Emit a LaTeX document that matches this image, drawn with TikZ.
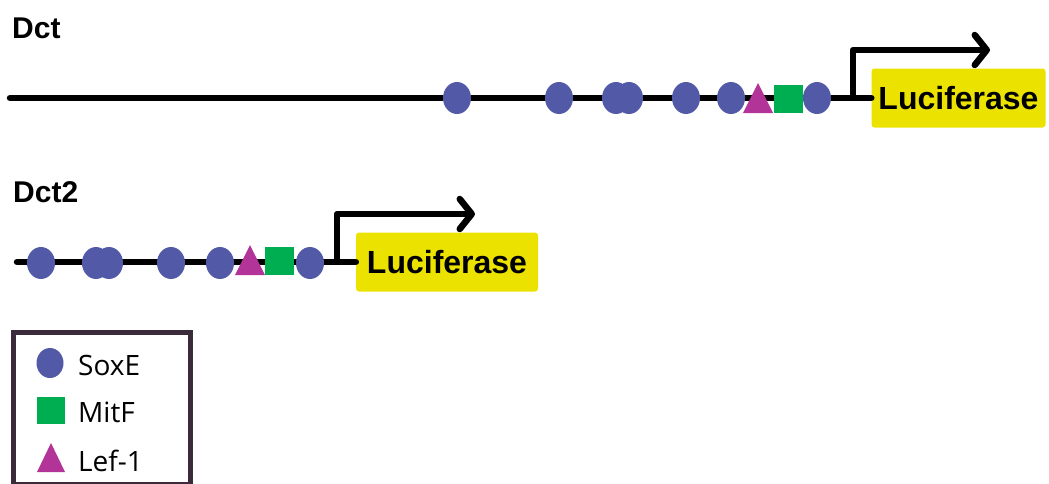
\documentclass[tikz,border=0pt]{standalone}
\usepackage{fontspec}
\setmainfont{Liberation Sans}
\newfontfamily\legendfont{Open Sans}
\usetikzlibrary{shapes.geometric,arrows.meta}

\definecolor{soxcol}{RGB}{82,90,168}
\definecolor{mitcol}{RGB}{0,174,82}
\definecolor{lefcol}{RGB}{178,52,152}
\definecolor{luccol}{RGB}{236,226,0}
\definecolor{framecol}{RGB}{58,42,58}

\tikzset{
  dna/.style={line width=6.5pt, line cap=round},
  promo/.style={line width=6.5pt, line join=round,
    -{Straight Barb[length=12pt, width=30pt, line cap=round, line join=round]}},
  sox/.style={ellipse, fill=soxcol, inner sep=0pt, minimum width=28pt, minimum height=32pt},
  soxkey/.style={ellipse, fill=soxcol, inner sep=0pt, minimum width=27pt, minimum height=30pt},
  mit/.style={rectangle, fill=mitcol, inner sep=0pt, minimum width=29pt, minimum height=28pt},
  lef/.style={fill=lefcol},
  luc/.style={rectangle, rounded corners=3pt, fill=luccol, inner sep=0pt,
    minimum height=59pt, font=\bfseries\fontsize{32}{34}\selectfont},
  title/.style={anchor=base west, inner sep=0pt, font=\bfseries\fontsize{30}{32}\selectfont},
  keytext/.style={anchor=base west, inner sep=0pt, font=\legendfont\fontsize{28}{30}\selectfont},
}

\begin{document}
\begin{tikzpicture}[x=1pt, y=-1pt]
\useasboundingbox (0,0) rectangle (1049,483);

% ---------------- Dct construct ----------------
\node[title] (dctlabel) at (12,38) {Dct};
\node[luc, minimum width=174pt] (luc1) at (958.5,98) {Luciferase};
\coordinate (d1start) at (10,98);
\draw[dna] (d1start) -- (luc1.west);
\coordinate (p1) at (853,98);
\coordinate (t1) at (990,50);
\draw[promo] (p1) |- (t1);

\node[sox] (s1) at (457,98) {};
\node[sox] (s2) at (559,98) {};
\node[sox] (s3) at (616,98) {};
\node[sox] (s4) at (629,98) {};
\node[sox] (s5) at (686,98) {};
\node[sox] (s6) at (731,98) {};
\fill[lef] (758,98) ++(-15,15) -- ++(15,-30) -- ++(15,30) -- cycle;
\node[mit] (m1) at (788.5,99) {};
\node[sox] (s7) at (817,98) {};

% ---------------- Dct2 construct ----------------
\node[title] (dct2label) at (13,202) {Dct2};
\node[luc, minimum width=182pt] (luc2) at (447,262) {Luciferase};
\coordinate (d2start) at (17,262);
\draw[dna] (d2start) -- (luc2.west);
\coordinate (p2) at (337,262);
\coordinate (t2) at (475,214);
\draw[promo] (p2) |- (t2);

\node[sox] (u1) at (41,263) {};
\node[sox] (u2) at (96,263) {};
\node[sox] (u3) at (109,263) {};
\node[sox] (u4) at (171,263) {};
\node[sox] (u5) at (220,263) {};
\fill[lef] (250,260) ++(-15,15) -- ++(15,-30) -- ++(15,30) -- cycle;
\node[mit] (m2) at (279.5,261) {};
\node[sox] (u6) at (310,263) {};

% ---------------- Legend ----------------
\draw[framecol, line width=5pt] (13,332) rectangle (190,484);
\node[soxkey] (ksox) at (50,363) {};
\node[keytext] (tsox) at (78,375) {SoxE};
\node[mit, minimum width=28pt, minimum height=27pt] (kmit) at (51,410.5) {};
\node[keytext] (tmit) at (78,422) {MitF};
\fill[lef] (51,457.5) ++(-14,14.5) -- ++(14,-29) -- ++(14,29) -- cycle;
\node[keytext] (tlef) at (78,471) {Lef-1};
\end{tikzpicture}
\end{document}
